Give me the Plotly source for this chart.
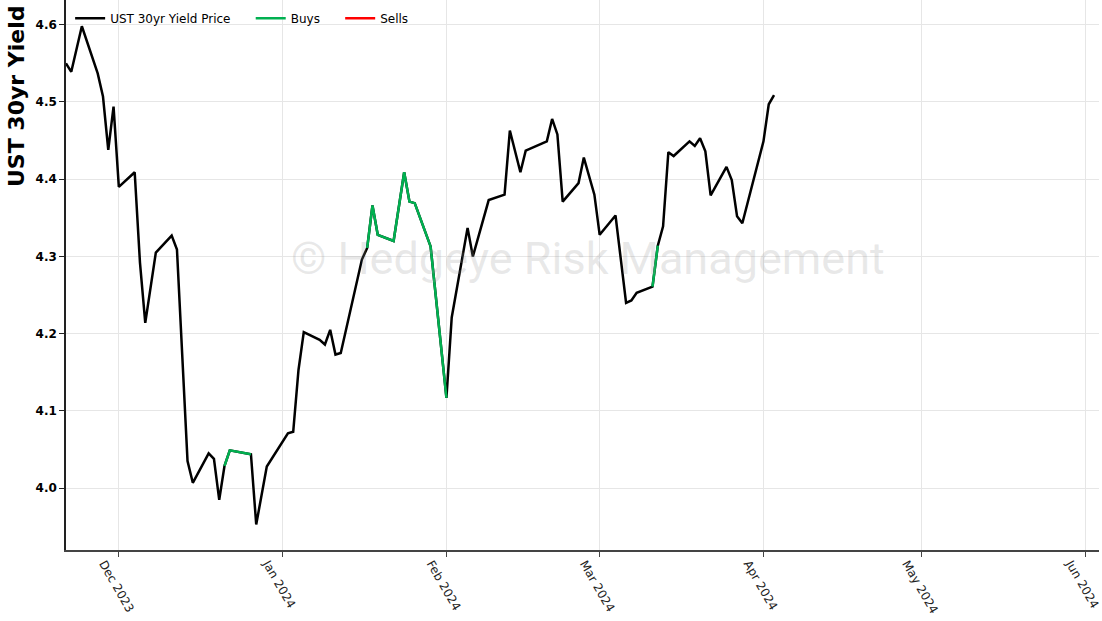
import plotly.graph_objects as go

dates = [
    "2023-11-21", "2023-11-22", "2023-11-24", "2023-11-27", "2023-11-28", "2023-11-29", "2023-11-30",
    "2023-12-01", "2023-12-04", "2023-12-05", "2023-12-06", "2023-12-08", "2023-12-11", "2023-12-12",
    "2023-12-14", "2023-12-15", "2023-12-18", "2023-12-19", "2023-12-20", "2023-12-21", "2023-12-22",
    "2023-12-26", "2023-12-27", "2023-12-29",
    "2024-01-02", "2024-01-03", "2024-01-04", "2024-01-05", "2024-01-08", "2024-01-09", "2024-01-10",
    "2024-01-11", "2024-01-12", "2024-01-16", "2024-01-17", "2024-01-18", "2024-01-19", "2024-01-22",
    "2024-01-24", "2024-01-25", "2024-01-26", "2024-01-29", "2024-02-01", "2024-02-02", "2024-02-05",
    "2024-02-06", "2024-02-09", "2024-02-12", "2024-02-13", "2024-02-15", "2024-02-16", "2024-02-20",
    "2024-02-21", "2024-02-22", "2024-02-23", "2024-02-26", "2024-02-27", "2024-02-29", "2024-03-01",
    "2024-03-04", "2024-03-06", "2024-03-07", "2024-03-08", "2024-03-11", "2024-03-12", "2024-03-13",
    "2024-03-14", "2024-03-15", "2024-03-18", "2024-03-19", "2024-03-20", "2024-03-21", "2024-03-22",
    "2024-03-25", "2024-03-26", "2024-03-27", "2024-03-28", "2024-04-01", "2024-04-02", "2024-04-03",
]

yields = [
    4.550, 4.539, 4.598, 4.537, 4.507, 4.438, 4.494,
    4.390, 4.409, 4.292, 4.214, 4.305, 4.327, 4.309,
    4.035, 4.007, 4.045, 4.038, 3.985, 4.029, 4.049,
    4.044, 3.953, 4.028,
    4.071, 4.073, 4.153, 4.202, 4.192, 4.186, 4.205,
    4.173, 4.175, 4.296, 4.311, 4.366, 4.328, 4.320,
    4.409, 4.371, 4.369, 4.313, 4.117, 4.221, 4.337,
    4.300, 4.373, 4.380, 4.463, 4.409, 4.437, 4.449,
    4.478, 4.458, 4.371, 4.395, 4.428, 4.380, 4.328,
    4.353, 4.240, 4.243, 4.253, 4.261, 4.314, 4.339,
    4.435, 4.430, 4.449, 4.443, 4.453, 4.436, 4.379,
    4.416, 4.399, 4.352, 4.343, 4.449, 4.497, 4.509,
]

buy_ranges = [
    ("2023-12-21", "2023-12-26"),
    ("2024-01-17", "2024-02-01"),
    ("2024-03-11", "2024-03-12"),
]
sell_ranges = []


def in_ranges(d, ranges):
    return any(a <= d <= b for a, b in ranges)


buys = [y if in_ranges(d, buy_ranges) else None for d, y in zip(dates, yields)]
sells = [y if in_ranges(d, sell_ranges) else None for d, y in zip(dates, yields)]

PAD = "\u00a0" * 4

fig = go.Figure()
fig.add_trace(go.Scatter(x=dates, y=yields, mode="lines", name="UST 30yr Yield Price" + PAD,
                         line=dict(color="#000000", width=2.5)))
fig.add_trace(go.Scatter(x=dates, y=buys, mode="lines", name="Buys" + PAD,
                         line=dict(color="#00B050", width=2.5), connectgaps=False))
fig.add_trace(go.Scatter(x=dates, y=sells, mode="lines", name="Sells",
                         line=dict(color="#FF0000", width=2.5), connectgaps=False))

fig.update_layout(
    width=1102, height=621,
    margin=dict(l=66, r=3, t=0, b=71, autoexpand=False),
    paper_bgcolor="white", plot_bgcolor="white",
    font=dict(family="DejaVu Sans", color="#000000"),
    showlegend=True,
    legend=dict(orientation="h", x=0.004, y=0.993, xanchor="left", yanchor="top",
                bgcolor="rgba(0,0,0,0)", font=dict(size=12, color="#000000")),
    xaxis=dict(
        type="date",
        range=["2023-11-21", "2024-06-03 12:00"],
        tick0="2023-12-01", dtick="M1", tickformat="%b %Y",
        tickangle=60,
        ticklabelshift=-15, ticklabelstandoff=-5,
        ticklabeloverflow="allow",
        tickfont=dict(size=12, color="#222222"),
        showgrid=True, gridcolor="#e6e6e6", gridwidth=1,
        showline=True, linecolor="#444444", linewidth=2,
        ticks="outside", ticklen=5, tickcolor="#444444",
        zeroline=False, automargin=False,
    ),
    yaxis=dict(
        range=[3.920, 4.632],
        dtick=0.1, tick0=4.0, tickformat=".1f",
        tickfont=dict(size=12, family="DejaVu Sans", color="#000000", weight="bold"),
        showgrid=True, gridcolor="#e6e6e6", gridwidth=1,
        showline=True, linecolor="#222222", linewidth=1.5,
        ticks="outside", ticklen=5, tickcolor="#222222",
        zeroline=False, automargin=False,
    ),
    annotations=[
        dict(text="<b>UST 30yr Yield</b>", xref="paper", yref="paper", x=0, y=1,
             xshift=-50, yshift=-3, xanchor="center", yanchor="top", textangle=-90,
             showarrow=False, font=dict(size=22, family="DejaVu Sans", color="#000000")),
        dict(text="© Hedgeye Risk Management", xref="paper", yref="paper", x=0.505, y=0.53,
             xanchor="center", yanchor="middle", showarrow=False,
             font=dict(size=45, family="Roboto", color="rgba(150,150,150,0.22)")),
    ],
)

fig.write_html("out.html", config={"displayModeBar": False},
               post_script="document.body.style.margin='0px';")
